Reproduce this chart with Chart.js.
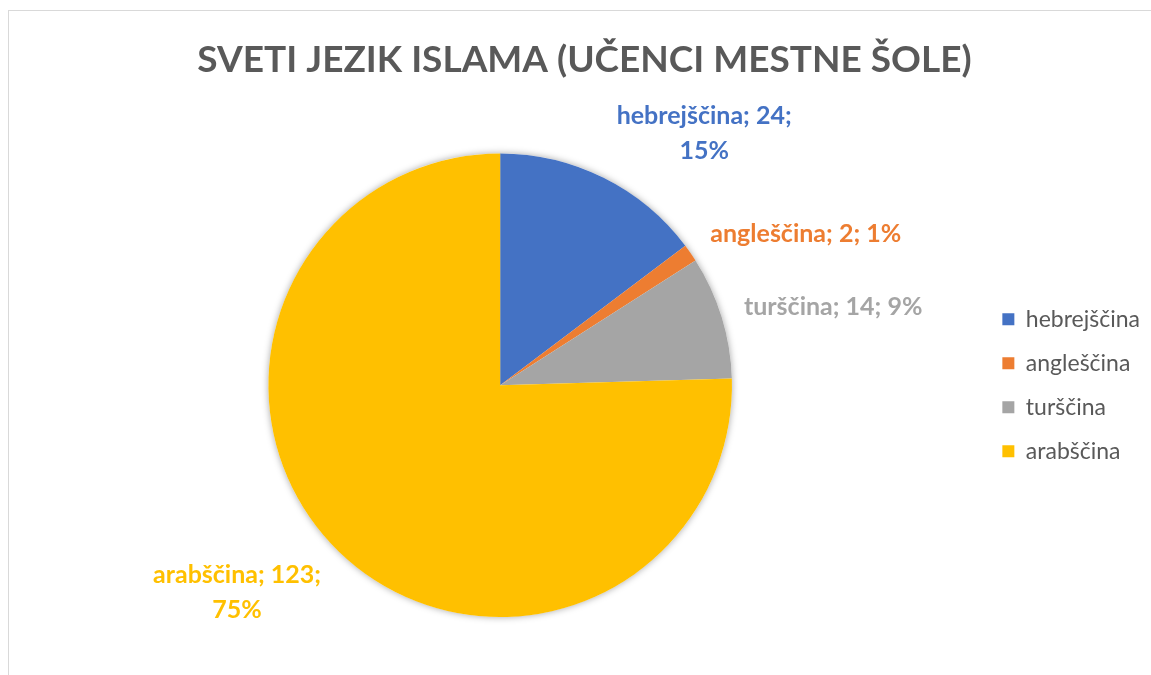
<!DOCTYPE html>
<html>
<head>
<meta charset="utf-8">
<script src="https://cdn.jsdelivr.net/npm/chart.js@4"></script>
<style>
  html, body { margin: 0; padding: 0; background: #fff; overflow: hidden; }
  #frame { position: absolute; left: 8px; top: 10px; width: 1200px; height: 700px; border: 1px solid #d9d9d9; }
  #wrap { position: absolute; left: 0; top: 0; width: 1151px; height: 675px; }
</style>
</head>
<body>
<div id="frame"></div>
<div id="wrap"><canvas id="chart"></canvas></div>
<script>
const TITLE = 'SVETI JEZIK ISLAMA (UČENCI MESTNE ŠOLE)';
const LANGUAGES = ['hebrejščina', 'angleščina', 'turščina', 'arabščina'];
const STUDENTS = [24, 2, 14, 123];
const COLORS = ['#4472C4', '#ED7D31', '#A5A5A5', '#FFC000'];

const FONT = 'Lato, "Open Sans", sans-serif';
const TEXT_GREY = '#595959';

const total = STUDENTS.reduce((sum, v) => sum + v, 0);
const percent = (v) => `${Math.round((v / total) * 100)}%`;

// soft shadow behind the whole pie
const pieShadow = {
  id: 'pieShadow',
  beforeDatasetsDraw(chart) {
    const arc = chart.getDatasetMeta(0).data[0];
    if (!arc) return;
    const { x, y, outerRadius } = arc.getProps(['x', 'y', 'outerRadius'], true);
    const ctx = chart.ctx;
    ctx.save();
    ctx.shadowColor = 'rgba(0, 0, 0, 0.35)';
    ctx.shadowBlur = 7;
    ctx.fillStyle = '#fff';
    ctx.beginPath();
    ctx.arc(x, y, outerRadius, 0, Math.PI * 2);
    ctx.fill();
    ctx.restore();
  },
};

// Excel-style "best fit" labels outside each slice
const outsideLabels = {
  id: 'outsideLabels',
  afterDatasetsDraw(chart) {
    const ctx = chart.ctx;
    const meta = chart.getDatasetMeta(0);
    ctx.save();
    ctx.font = `bold 25px ${FONT}`;
    ctx.textAlign = 'center';
    ctx.textBaseline = 'middle';
    meta.data.forEach((arc, i) => {
      const { x, y, startAngle, endAngle, outerRadius } = arc.getProps(
        ['x', 'y', 'startAngle', 'endAngle', 'outerRadius'],
        true
      );
      const mid = (startAngle + endAngle) / 2;
      const cos = Math.cos(mid);
      const sin = Math.sin(mid);
      const px = x + cos * (outerRadius + 18);
      const py = y + sin * (outerRadius + 18);

      const value = STUDENTS[i];
      const full = `${LANGUAGES[i]}; ${value}; ${percent(value)}`;
      let lines = [full];
      if (ctx.measureText(full).width > 215) {
        lines = [`${LANGUAGES[i]}; ${value};`, percent(value)];
      }
      const lineHeight = 35;
      const w = Math.max(...lines.map((l) => ctx.measureText(l).width));
      const h = (lines.length - 1) * lineHeight + 22;
      const cx = px + Math.sign(cos) * (w / 2 + 5);
      const cy = py + Math.sign(sin) * Math.min(1, Math.abs(sin) * 1.4) * (h / 2);

      ctx.fillStyle = COLORS[i];
      lines.forEach((line, k) => {
        ctx.fillText(line, cx, cy - ((lines.length - 1) * lineHeight) / 2 + k * lineHeight);
      });
    });
    ctx.restore();
  },
};

new Chart(document.getElementById('chart'), {
  type: 'pie',
  data: {
    labels: LANGUAGES,
    datasets: [
      {
        data: STUDENTS,
        backgroundColor: COLORS,
        borderWidth: 0,
      },
    ],
  },
  options: {
    responsive: true,
    maintainAspectRatio: false,
    animation: false,
    layout: {
      padding: { left: 19, right: 1, top: 0, bottom: 58 },
    },
    plugins: {
      tooltip: { enabled: false },
      title: {
        display: true,
        text: TITLE,
        color: TEXT_GREY,
        font: { family: FONT, size: 37, weight: 'bold' },
        padding: { top: 38, bottom: 71 },
      },
      legend: {
        position: 'right',
        fullSize: false,
        labels: {
          boxWidth: 12,
          boxHeight: 12,
          padding: 21,
          color: TEXT_GREY,
          font: { family: FONT, size: 23 },
        },
      },
    },
  },
  plugins: [pieShadow, outsideLabels],
});
</script>
</body>
</html>
